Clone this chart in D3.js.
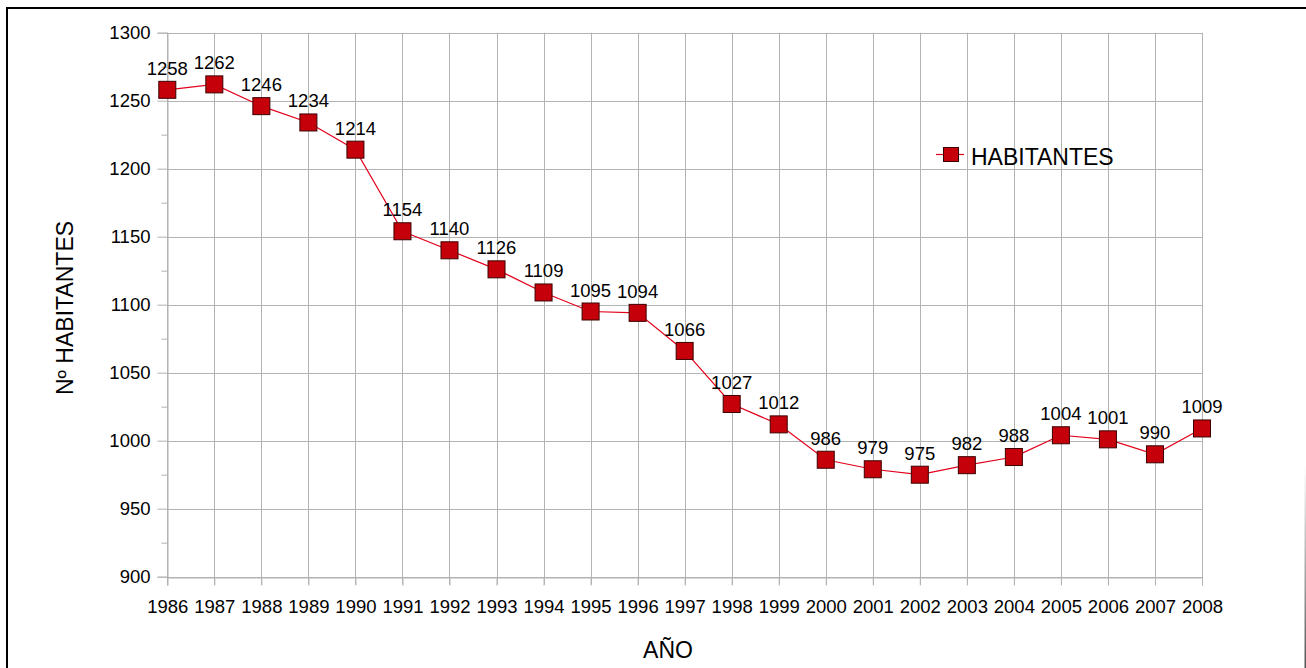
<!DOCTYPE html>
<html>
<head>
<meta charset="utf-8">
<script src="https://cdn.jsdelivr.net/npm/d3@7"></script>
<style>
html,body{margin:0;padding:0;background:#fff;}
svg{display:block;font-family:"Liberation Sans",Arial,sans-serif;}
</style>
</head>
<body>
<svg id="chart" width="1306" height="668"></svg>
<script>
const years = [1986,1987,1988,1989,1990,1991,1992,1993,1994,1995,1996,1997,1998,1999,2000,2001,2002,2003,2004,2005,2006,2007,2008];
const habitantes = [1258,1262,1246,1234,1214,1154,1140,1126,1109,1095,1094,1066,1027,1012,986,979,975,982,988,1004,1001,990,1009];
const yTicks = [900,950,1000,1050,1100,1150,1200,1250,1300];
const yMinorTicks = [925,975,1025,1075,1125,1175,1225,1275];
const seriesName = "HABITANTES";
const xTitle = "AÑO";
const yTitle = "Nº HABITANTES";

(function(){
const svg = d3.select("#chart");
const pL = 167.3, pR = 1202, pT = 32.7, pB = 576.7;
const grid = "#b3b3b3";

const x = d3.scalePoint().domain(years).range([pL, pR]);
const y = d3.scaleLinear().domain([900, 1300]).range([pB, pT]);

// border
const defs = svg.append("defs");
const grad = defs.append("linearGradient").attr("id","rg").attr("x1",0).attr("y1",0).attr("x2",0).attr("y2",1);
grad.append("stop").attr("offset","0%").attr("stop-color","#fff");
grad.append("stop").attr("offset","100%").attr("stop-color","#555");
svg.append("rect").attr("x",1304.5).attr("y",465).attr("width",1.5).attr("height",203).attr("fill","url(#rg)");
svg.append("line").attr("x1",6).attr("x2",1306).attr("y1",8).attr("y2",8).attr("stroke","#000").attr("stroke-width",2);
svg.append("line").attr("x1",7).attr("x2",7).attr("y1",7).attr("y2",668).attr("stroke","#000").attr("stroke-width",2);

// horizontal grid
svg.append("g").selectAll("line").data(yTicks).join("line")
  .attr("x1", pL).attr("x2", pR)
  .attr("y1", d => Math.round(y(d))+0.5).attr("y2", d => Math.round(y(d))+0.5)
  .attr("stroke", grid).attr("stroke-width",1);
// vertical grid
svg.append("g").selectAll("line").data(years).join("line")
  .attr("x1", d => Math.round(x(d))+0.5).attr("x2", d => Math.round(x(d))+0.5)
  .attr("y1", pT).attr("y2", pB+8)
  .attr("stroke", grid).attr("stroke-width",1);

// y axis ticks
const yAxis = d3.axisLeft(y).tickValues(yTicks).tickSize(10).tickPadding(7).tickFormat(d3.format("d"));
const gy = svg.append("g").attr("transform", `translate(${Math.round(pL)+0.5},0)`).call(yAxis);
gy.select(".domain").attr("stroke", grid);
gy.selectAll(".tick line").attr("stroke", grid);
gy.selectAll(".tick text").attr("font-size", "18.5px").attr("fill","#000").attr("font-family","Liberation Sans, Arial, sans-serif");
const yMinor = d3.axisLeft(y).tickValues(yMinorTicks).tickSize(6).tickFormat("");
const gym = svg.append("g").attr("transform", `translate(${Math.round(pL)+0.5},0)`).call(yMinor);
gym.select(".domain").remove();
gym.selectAll(".tick line").attr("stroke", grid);

// x axis labels
const xAxis = d3.axisBottom(x).tickSize(8).tickPadding(14).tickFormat(d3.format("d"));
const gx = svg.append("g").attr("transform", `translate(0,${Math.round(pB)+0.5})`).call(xAxis);
gx.select(".domain").attr("stroke", grid);
gx.selectAll(".tick line").attr("stroke", grid);
gx.selectAll(".tick text").attr("font-size", "18.5px").attr("fill","#000").attr("font-family","Liberation Sans, Arial, sans-serif");

// line
const line = d3.line().x((d,i) => x(years[i])).y(d => y(d));
svg.append("path").datum(habitantes).attr("d", line)
  .attr("fill","none").attr("stroke","#e3001b").attr("stroke-width",1.2);

// markers
const ms = 17;
svg.append("g").selectAll("rect").data(habitantes).join("rect")
  .attr("x", (d,i) => x(years[i]) - ms/2).attr("y", d => y(d) - ms/2)
  .attr("width", ms).attr("height", ms)
  .attr("fill","#c5000b").attr("stroke","#3a0000").attr("stroke-width",1);

// data labels
svg.append("g").selectAll("text").data(habitantes).join("text")
  .attr("x", (d,i) => x(years[i])).attr("y", d => y(d) - 15)
  .attr("text-anchor","middle").attr("font-size","18.5px").attr("fill","#000")
  .text(d => d);

// legend
svg.append("line").attr("x1",936).attr("x2",964).attr("y1",154.5).attr("y2",154.5).attr("stroke","#e3001b").attr("stroke-width",1.2);
svg.append("rect").attr("x",943.5).attr("y",147.5).attr("width",15).attr("height",14)
  .attr("fill","#c5000b").attr("stroke","#3a0000").attr("stroke-width",1);
svg.append("text").attr("x",971).attr("y",165).attr("font-size","23px").attr("fill","#000").text(seriesName);

// axis titles
svg.append("text").attr("x",668).attr("y",658).attr("text-anchor","middle").attr("font-size","23px").attr("fill","#000").text(xTitle);
svg.append("text").attr("transform","translate(73,308) rotate(-90)").attr("text-anchor","middle").attr("font-size","23px").attr("fill","#000").text(yTitle);
})();
</script>
</body>
</html>
